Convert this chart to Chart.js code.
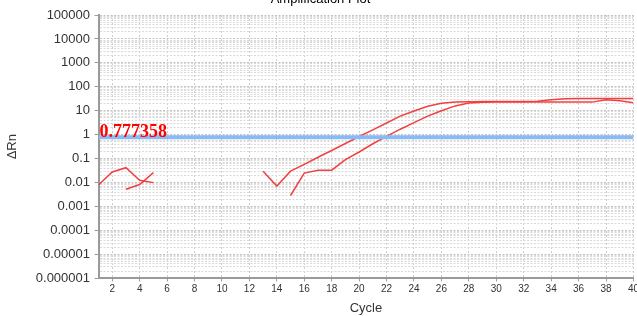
<!DOCTYPE html>
<html>
<head>
<meta charset="utf-8">
<script src="https://cdn.jsdelivr.net/npm/chart.js@4/dist/chart.umd.min.js"></script>
<style>
  html, body { margin: 0; padding: 0; overflow: hidden; background: #fff; width: 637px; height: 316px; }
  #wrap { position: absolute; left: 0; top: -8px; width: 641px; height: 324px; }
</style>
</head>
<body>
<div id="wrap"><canvas id="c"></canvas></div>
<script>
// ---- data ----
const chartTitle = 'Amplification Plot';
const xTitle = 'Cycle';
const yTitle = 'ΔRn';
const cycles = [1,2,3,4,5,6,7,8,9,10,11,12,13,14,15,16,17,18,19,20,21,22,23,24,25,26,27,28,29,30,31,32,33,34,35,36,37,38,39,40];
const wellA = [0.008,0.028,0.042,0.0125,0.010,null,null,null,null,null,null,null,
  0.030,0.0072,0.030,0.058,0.115,0.22,0.43,0.84,1.6,3.1,6.0,9.8,15.5,20.5,23.5,24,24.2,24.5,24.5,24.5,25,29,32,32.5,32.5,32.5,32.5,32.5];
const wellB = [null,null,0.0053,0.0083,0.026,null,null,null,null,null,null,null,null,null,
  0.0029,0.025,0.033,0.033,0.092,0.19,0.42,0.85,1.7,3.2,6.0,10,16,21,22.5,23,23,23,23,23,23,23,23,29,26,21.5];
const threshold = 0.777358;
const thresholdLabel = '0.777358';
const yTickValues = [1e-6,1e-5,1e-4,1e-3,1e-2,1e-1,1,10,100,1000,10000,100000];
const yTickLabels = ['0.000001','0.00001','0.0001','0.001','0.01','0.1','1','10','100','1000','10000','100000'];
const xTickStep = 2;

// ---- helpers ----
function majorIndex(v) {
  for (let i = 0; i < yTickValues.length; i++) {
    if (Math.abs(v - yTickValues[i]) <= yTickValues[i] * 1e-6) return i;
  }
  return -1;
}
const toPts = arr => cycles.map((c, i) => ({ x: c, y: arr[i] }));

const thresholdText = {
  id: 'thresholdText',
  afterDatasetsDraw(chart) {
    const { ctx, chartArea, scales } = chart;
    const y = scales.y.getPixelForValue(threshold);
    ctx.save();
    ctx.font = 'bold 18px "Liberation Serif"';
    ctx.fillStyle = '#ff0000';
    ctx.textBaseline = 'alphabetic';
    ctx.textAlign = 'left';
    ctx.fillText(thresholdLabel, chartArea.left + 1, y - 0.5);
    ctx.restore();
  }
};

const red = 'rgba(240,55,55,0.95)';
new Chart(document.getElementById('c'), {
  type: 'line',
  data: {
    datasets: [
      { label: 'Threshold', data: [{ x: cycles[0], y: threshold }, { x: cycles[cycles.length - 1], y: threshold }],
        borderColor: 'rgb(138,186,245)', borderWidth: 4, pointRadius: 0 },
      { label: 'A', data: toPts(wellA), borderColor: red, borderWidth: 1.5, pointRadius: 0, spanGaps: false },
      { label: 'B', data: toPts(wellB), borderColor: red, borderWidth: 1.5, pointRadius: 0, spanGaps: false }
    ]
  },
  options: {
    responsive: true,
    maintainAspectRatio: false,
    animation: false,
    layout: { padding: 0 },
    plugins: {
      legend: { display: false },
      tooltip: { enabled: false },
      title: {
        display: true, text: chartTitle, color: '#000',
        font: { family: '"Liberation Sans", Arial, sans-serif', size: 13, weight: 'normal' },
        padding: { top: 0, bottom: 7.4 }
      }
    },
    scales: {
      x: {
        type: 'linear', min: cycles[0], max: cycles[cycles.length - 1],
        ticks: { stepSize: xTickStep, includeBounds: false, color: '#333', padding: 2,
          font: { family: '"Liberation Sans", Arial, sans-serif', size: 10 }, maxRotation: 0, autoSkip: false },
        grid: { color: '#cfcfcf', lineWidth: 1, tickLength: 3, tickColor: '#999' },
        border: { display: true, color: '#9a9a9a', width: 2, dash: [2, 2] },
        title: { display: true, text: xTitle, color: '#333',
          font: { family: '"Liberation Sans", Arial, sans-serif', size: 13 }, padding: { top: 3, bottom: 0 } }
      },
      y: {
        type: 'logarithmic', min: yTickValues[0], max: yTickValues[yTickValues.length - 1],
        afterBuildTicks(scale) {
          scale.ticks = scale.ticks.filter(t => {
            const e = Math.floor(Math.log10(t.value) + 1e-9);
            const s = t.value / Math.pow(10, e);
            return Math.abs(s - 1.5) > 1e-6;
          });
        },
        ticks: {
          autoSkip: false, color: '#333', padding: 4.5,
          font: { family: '"Liberation Sans", Arial, sans-serif', size: 13 },
          callback: (v) => { const i = majorIndex(v); return i >= 0 ? yTickLabels[i] : ''; }
        },
        grid: {
          lineWidth: 1, tickLength: 4,
          color: (ctx) => (ctx.tick && majorIndex(ctx.tick.value) >= 0) ? '#c4c4c4' : '#dadada',
          tickColor: (ctx) => (ctx.tick && majorIndex(ctx.tick.value) >= 0) ? '#999' : 'rgba(0,0,0,0)'
        },
        border: { display: true, color: '#9a9a9a', width: 2, dash: [2, 1.5] },
        title: { display: true, text: yTitle, color: '#333',
          font: { family: '"Liberation Sans", Arial, sans-serif', size: 13 }, padding: { top: 5, bottom: 10.7 } }
      }
    }
  },
  plugins: [thresholdText]
});
</script>
</body>
</html>
